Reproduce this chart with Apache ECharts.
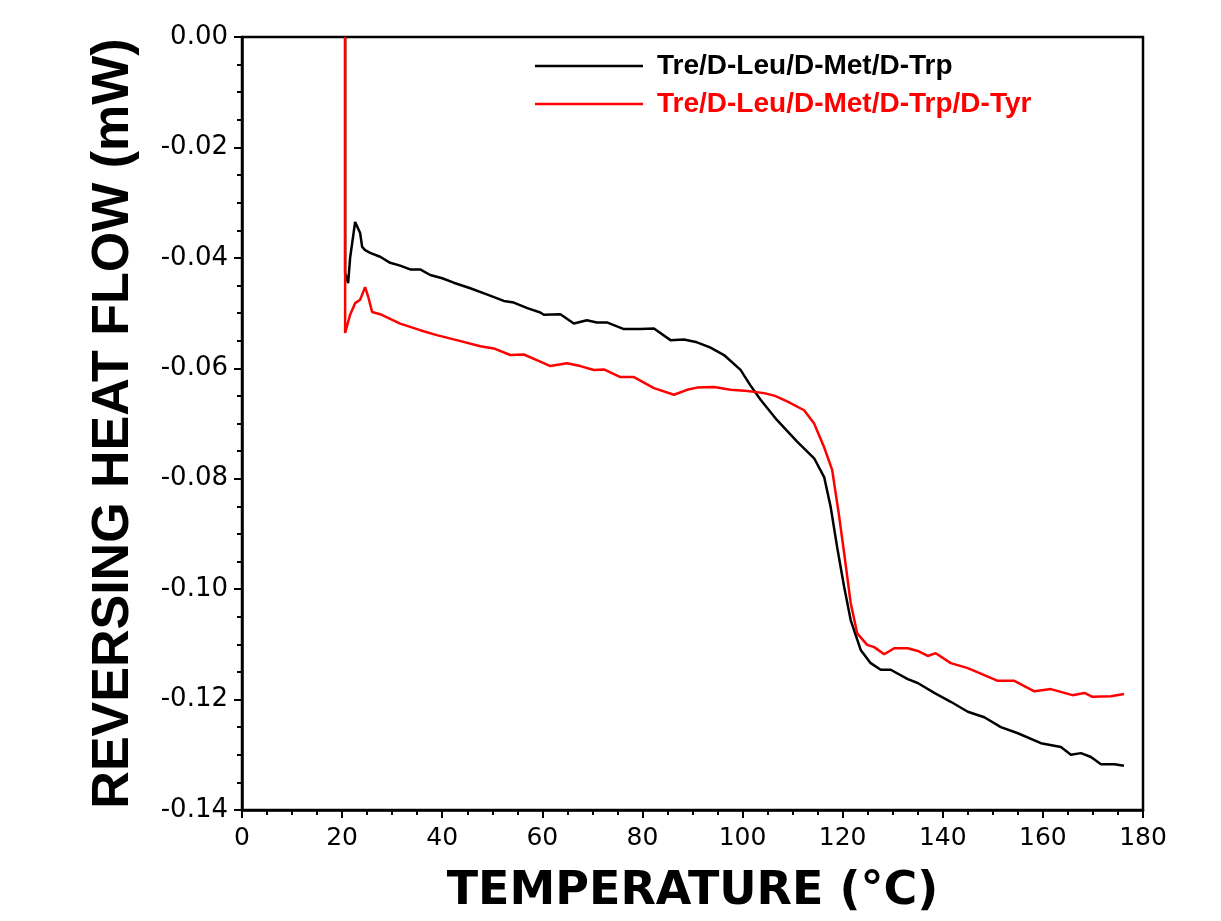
<!DOCTYPE html>
<html>
<head>
<meta charset="utf-8">
<script src="https://cdn.jsdelivr.net/npm/echarts@6/dist/echarts.min.js"></script>
<style>
html,body{margin:0;padding:0;background:#fff;}
#chart{width:1221px;height:921px;}
</style>
</head>
<body>
<div id="chart"></div>
<script>
// ---- data ----
const seriesNames = ['Tre/D-Leu/D-Met/D-Trp', 'Tre/D-Leu/D-Met/D-Trp/D-Tyr'];
const seriesColors = ['#000000', '#ff0000'];

const blackTemp = [20.6,20.6,21.2,21.6,22.6,23.6,24.0,24.6,25.6,27.6,29.6,31.6,33.6,35.6,37.6,40.0,42.3,45.6,48.9,52.3,54.3,57.0,59.6,60.3,63.6,66.3,68.9,70.9,72.9,76.3,79.6,82.3,85.6,88.3,90.9,93.5,96.3,99.6,101.5,103.6,106.9,110.9,114.3,116.3,117.6,118.9,120.3,121.6,123.6,125.6,127.6,129.6,133.0,135.0,138.3,141.6,145.0,148.3,151.6,155.0,159.6,163.6,165.6,167.6,169.6,171.6,174.3,176.2];
const blackFlow = [0.000,-0.0427,-0.0446,-0.0400,-0.0335,-0.0355,-0.0380,-0.0386,-0.0391,-0.0398,-0.0409,-0.0414,-0.0421,-0.0421,-0.0431,-0.0437,-0.0445,-0.0455,-0.0466,-0.0478,-0.0481,-0.0491,-0.0499,-0.0503,-0.0502,-0.0519,-0.0513,-0.0517,-0.0517,-0.0529,-0.0529,-0.0528,-0.0549,-0.0548,-0.0553,-0.0562,-0.0576,-0.0603,-0.0630,-0.0657,-0.0694,-0.0733,-0.0763,-0.0797,-0.0851,-0.0924,-0.0996,-0.1056,-0.1110,-0.1134,-0.1146,-0.1146,-0.1163,-0.1170,-0.1188,-0.1204,-0.1222,-0.1232,-0.1250,-0.1261,-0.1279,-0.1286,-0.1300,-0.1297,-0.1304,-0.1317,-0.1317,-0.1320];

const redTemp = [20.6,20.6,21.6,22.6,23.6,24.6,25.2,26.0,27.6,31.6,35.6,38.9,42.9,47.6,50.3,53.6,56.3,59.6,61.6,64.9,67.6,70.3,72.3,75.6,78.3,82.3,86.3,88.9,90.9,94.3,97.6,101.0,104.3,106.5,108.9,112.3,114.3,116.3,117.9,119.2,120.3,121.6,122.9,124.9,126.3,128.3,130.3,133.0,135.0,137.0,138.6,141.6,145.0,151.0,154.3,158.3,161.6,165.9,168.3,169.9,173.6,176.2];
const redFlow = [0.000,-0.0536,-0.0503,-0.0482,-0.0476,-0.0453,-0.0470,-0.0498,-0.0502,-0.0519,-0.0531,-0.0540,-0.0549,-0.0560,-0.0564,-0.0576,-0.0575,-0.0588,-0.0596,-0.0591,-0.0596,-0.0603,-0.0602,-0.0616,-0.0616,-0.0636,-0.0648,-0.0639,-0.0635,-0.0634,-0.0639,-0.0641,-0.0645,-0.0650,-0.0660,-0.0676,-0.0700,-0.0743,-0.0784,-0.0862,-0.0935,-0.1025,-0.1080,-0.1101,-0.1105,-0.1118,-0.1107,-0.1107,-0.1112,-0.1121,-0.1116,-0.1134,-0.1143,-0.1166,-0.1166,-0.1185,-0.1181,-0.1192,-0.1188,-0.1195,-0.1194,-0.1190];

const xAxisName = 'TEMPERATURE (°C)';
const yAxisName = 'REVERSING HEAT FLOW (mW)';

// ---- chart ----
function zip(xs, ys){ return xs.map((x,i)=>[x, ys[i]]); }

const chart = echarts.init(document.getElementById('chart'), null, {renderer:'canvas'});
chart.setOption({
  animation:false,
  backgroundColor:'#ffffff',
  grid:{left:242, top:37, right:78, bottom:111, show:true, borderColor:'#000', borderWidth:2.5, backgroundColor:'transparent'},
  legend:{
    orient:'vertical', left:530, top:47, itemGap:10,
    itemWidth:108, itemHeight:2.5, icon:'rect',
    data:[
      {name:seriesNames[0], icon:'rect', itemStyle:{color:seriesColors[0]}, textStyle:{color:seriesColors[0]}},
      {name:seriesNames[1], icon:'rect', itemStyle:{color:seriesColors[1]}, textStyle:{color:seriesColors[1]}}
    ],
    textStyle:{fontFamily:'Liberation Sans', fontWeight:'bold', fontSize:28, padding:[0,0,0,9]}
  },
  xAxis:{
    type:'value', min:0, max:180, interval:20,
    name:xAxisName, nameLocation:'middle', nameGap:59,
    nameTextStyle:{fontFamily:'DejaVu Sans', fontWeight:'bold', fontSize:46, color:'#000'},
    axisLine:{onZero:false, lineStyle:{color:'#000', width:2.5}},
    axisTick:{show:true, inside:false, length:8, lineStyle:{color:'#000', width:2}},
    minorTick:{show:true, splitNumber:4, length:5, lineStyle:{color:'#000', width:2}},
    axisLabel:{fontFamily:'DejaVu Sans', fontSize:25, color:'#000', margin:16},
    splitLine:{show:false}
  },
  yAxis:{
    type:'value', min:-0.14, max:0, interval:0.02,
    name:yAxisName, nameLocation:'middle', nameGap:102, nameRotate:90,
    nameTextStyle:{fontFamily:'Liberation Sans', fontWeight:'bold', fontSize:52, color:'#000'},
    axisLine:{onZero:false, lineStyle:{color:'#000', width:2.5}},
    axisTick:{show:true, inside:false, length:8, lineStyle:{color:'#000', width:2}},
    minorTick:{show:true, splitNumber:4, length:5, lineStyle:{color:'#000', width:2}},
    axisLabel:{fontFamily:'DejaVu Sans', fontSize:26, color:'#000', margin:14,
      formatter:function(v){ return Math.abs(v)<1e-9 ? '0.00' : v.toFixed(2); }},
    splitLine:{show:false}
  },
  series:[
    {name:seriesNames[0], type:'line', data:zip(blackTemp, blackFlow), symbol:'none', smooth:false,
     lineStyle:{color:seriesColors[0], width:2.5}, itemStyle:{color:seriesColors[0]}},
    {name:seriesNames[1], type:'line', data:zip(redTemp, redFlow), symbol:'none', smooth:false,
     lineStyle:{color:seriesColors[1], width:2.5}, itemStyle:{color:seriesColors[1]}}
  ]
});
</script>
</body>
</html>
